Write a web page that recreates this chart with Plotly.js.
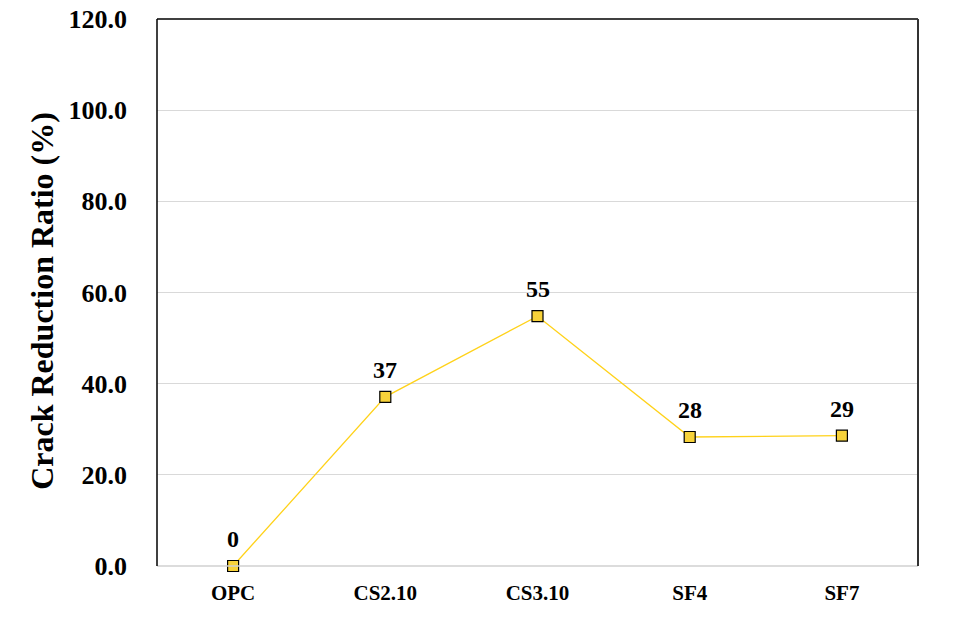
<!DOCTYPE html>
<html>
<head>
<meta charset="utf-8">
<script src="https://cdn.plot.ly/plotly-3.0.1.min.js"></script>
<style>html,body{margin:0;padding:0;background:#fff;}#chart{width:977px;height:639px;}</style>
</head>
<body>
<div id="chart"></div>
<script>
const categories = ["OPC", "CS2.10", "CS3.10", "SF4", "SF7"];
const values = [0, 37.1, 54.8, 28.3, 28.6];
const labels = ["0", "37", "55", "28", "29"];
const yTicks = [0, 20, 40, 60, 80, 100, 120];
const yTitle = "Crack Reduction Ratio (%)";

const serif = "'Liberation Serif', 'Times New Roman', serif";

const trace = {
  x: categories,
  y: values,
  type: "scatter",
  mode: "lines+markers",
  line: {color: "#FFD21A", width: 1.3},
  marker: {symbol: "square", size: 11, color: "#F7D23A", line: {color: "#000", width: 1.2}},
  cliponaxis: false,
  hoverinfo: "skip"
};

const labelAnnotations = categories.map((c, i) => ({
  x: c, y: values[i], xref: "x", yref: "y",
  text: labels[i], showarrow: false,
  xanchor: "center", yanchor: "bottom", yshift: 12,
  font: {family: serif, size: 24, color: "#000", weight: "bold"}
}));

const titleAnnotation = {
  xref: "paper", yref: "paper", x: -0.152, y: 0.5,
  xanchor: "center", yanchor: "middle", yshift: -8,
  textangle: -90, showarrow: false,
  text: yTitle,
  font: {family: serif, size: 32, color: "#000", weight: "bold"}
};

const layout = {
  width: 977, height: 639,
  margin: {l: 157, r: 59, t: 19, b: 73},
  paper_bgcolor: "#fff", plot_bgcolor: "#fff",
  showlegend: false,
  font: {family: serif, color: "#000"},
  xaxis: {
    type: "category",
    range: [-0.5, 4.5],
    showgrid: false,
    zeroline: false,
    showline: false,
    ticks: "",
    ticklabelstandoff: 12,
    tickfont: {family: serif, size: 21, color: "#000", weight: "bold"}
  },
  yaxis: {
    range: [0, 120],
    tickvals: yTicks,
    ticktext: yTicks.map(v => v.toFixed(1)),
    showgrid: true,
    gridcolor: "#D9D9D9",
    gridwidth: 1,
    zeroline: false,
    showline: false,
    ticks: "",
    ticklabelstandoff: 29,
    tickfont: {family: serif, size: 26, color: "#000", weight: "bold"}
  },
  annotations: [titleAnnotation].concat(labelAnnotations),
  shapes: [
    {type: "line", xref: "paper", yref: "paper", x0: 0, x1: 1, y0: 0, y1: 0, line: {color: "#D0D0D0", width: 1.5}},
    {type: "line", xref: "paper", yref: "paper", x0: 0, x1: 0, y0: 0, y1: 1, line: {color: "#000", width: 1.5}},
    {type: "line", xref: "paper", yref: "paper", x0: 0, x1: 1, y0: 1, y1: 1, line: {color: "#000", width: 1.5}},
    {type: "line", xref: "paper", yref: "paper", x0: 1, x1: 1, y0: 0, y1: 1, line: {color: "#333", width: 2}}
  ]
};

Plotly.newPlot("chart", [trace], layout, {displayModeBar: false, staticPlot: true});
</script>
</body>
</html>
